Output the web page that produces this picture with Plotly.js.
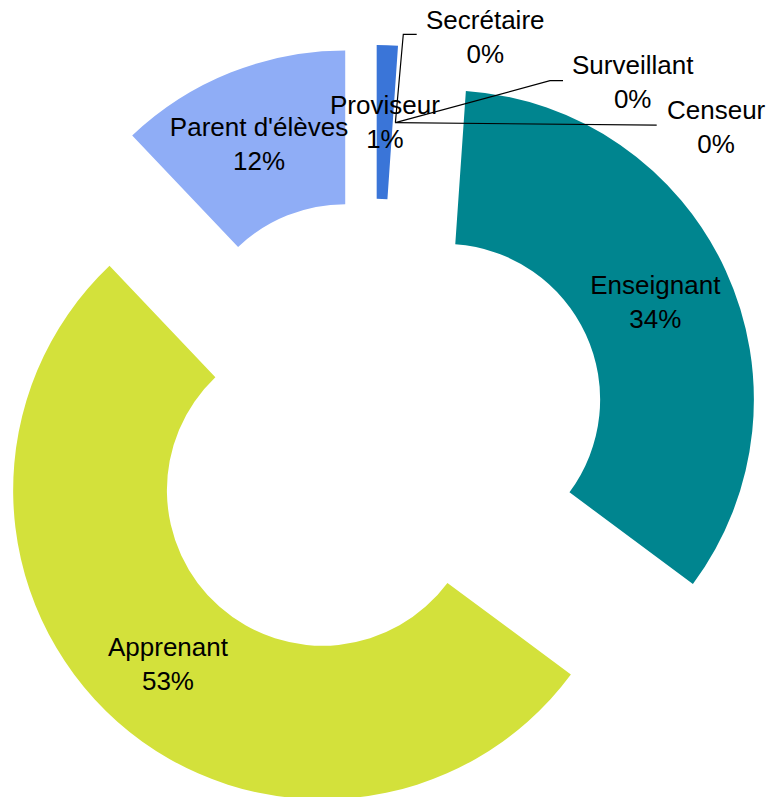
<!DOCTYPE html>
<html>
<head>
<meta charset="utf-8">
<script src="https://cdn.plot.ly/plotly-3.0.1.min.js"></script>
<style>
html,body{margin:0;padding:0;overflow:hidden;background:#ffffff;width:773px;height:797px;}
#chart{position:absolute;left:-13px;top:0;width:800px;height:820px;}
</style>
</head>
<body>
<div id="chart"></div>
<script>
// ---- data ----
const labels = ['Proviseur', 'Secrétaire', 'Surveillant', 'Censeur', 'Enseignant', 'Apprenant', "Parent d'élèves"];
const values = [1, 0, 0, 0, 31, 48, 11];
const colors = ['#3A75D8', '#A5A5A5', '#4472C4', '#ED7D31', '#00858F', '#D3E13B', '#8FADF6'];
const textPositions = ['none', 'none', 'none', 'none', 'inside', 'inside', 'inside'];

// ---- layout geometry (pixels) ----
const LEFT = -13, W = 800, H = 820, MT = 45, MB = 1, ML = 0, MR = 26;
const PULL = 0.251, HOLE = 0.503;
const FONT = {family: 'Liberation Sans, Arial, sans-serif', size: 26, color: '#000000'};

// callout label positions for the 0% slices, with leader elbows (page pixels)
const callouts = {
  'Secrétaire': {text: [485.5, 37.5], elbow: [[416.7, 34.3], [403.3, 34.3]]},
  'Surveillant': {text: [633, 82.5], elbow: [[563, 80.7], [550, 80.7]]},
  'Censeur': {text: [716, 126.5], elbow: [[656.7, 125.2]]}
};

const plotW = W - ML - MR, plotH = H - MT - MB;
const R = Math.min(plotW, plotH) / (2 + 2 * PULL);
const cx = LEFT + ML + plotW / 2, cy = MT + plotH / 2;
const toPaper = (px, py) => [(px - LEFT - ML) / plotW, 1 - (py - MT) / plotH];
const total = values.reduce((a, b) => a + b, 0);

function labelAnchor(i) {
  let before = 0;
  for (let k = 0; k < i; k++) before += values[k];
  const mid = 2 * Math.PI * (before + values[i] / 2) / total;
  const rr = PULL * R + (1 + HOLE) / 2 * R;
  return [cx + rr * Math.sin(mid), cy - rr * Math.cos(mid)];
}
const pctText = i => labels[i] + '<br>' + Math.round(values[i] / total * 100) + '%';

const annotations = [];
const shapes = [];
labels.forEach((lab, i) => {
  if (textPositions[i] !== 'none') return;
  const a = labelAnchor(i);
  if (callouts[lab]) {
    const c = callouts[lab];
    const tp = toPaper(c.text[0], c.text[1]);
    annotations.push({xref: 'paper', yref: 'paper', x: tp[0], y: tp[1], xanchor: 'center', yanchor: 'middle',
      text: pctText(i), showarrow: false, font: FONT, align: 'center'});
    const pts = c.elbow.concat([a]).map(p => toPaper(p[0], p[1]));
    shapes.push({type: 'path', xref: 'paper', yref: 'paper', layer: 'above',
      path: 'M' + pts.map(p => p[0].toFixed(5) + ',' + p[1].toFixed(5)).join(' L'),
      line: {color: '#000000', width: 1.2}});
  } else {
    const tp = toPaper(a[0], a[1]);
    annotations.push({xref: 'paper', yref: 'paper', x: tp[0], y: tp[1], xanchor: 'center', yanchor: 'middle',
      text: pctText(i), showarrow: false, font: FONT, align: 'center'});
  }
});

const trace = {
  type: 'pie',
  labels: labels,
  values: values,
  sort: false,
  direction: 'clockwise',
  rotation: 0,
  hole: HOLE,
  pull: PULL,
  marker: {colors: colors, line: {width: 0}},
  textposition: textPositions,
  texttemplate: '%{label}<br>%{percent:.0%}',
  insidetextorientation: 'horizontal',
  textfont: FONT,
  insidetextfont: FONT,
  hoverinfo: 'none',
  showlegend: false
};

const layout = {
  width: W, height: H,
  autosize: false,
  margin: {l: ML, r: MR, t: MT, b: MB, pad: 0},
  paper_bgcolor: 'rgba(0,0,0,0)',
  plot_bgcolor: 'rgba(0,0,0,0)',
  showlegend: false,
  uniformtext: {mode: 'show', minsize: 26},
  annotations: annotations,
  shapes: shapes,
  font: FONT
};

Plotly.newPlot('chart', [trace], layout, {displayModeBar: false, staticPlot: true});
</script>
</body>
</html>
